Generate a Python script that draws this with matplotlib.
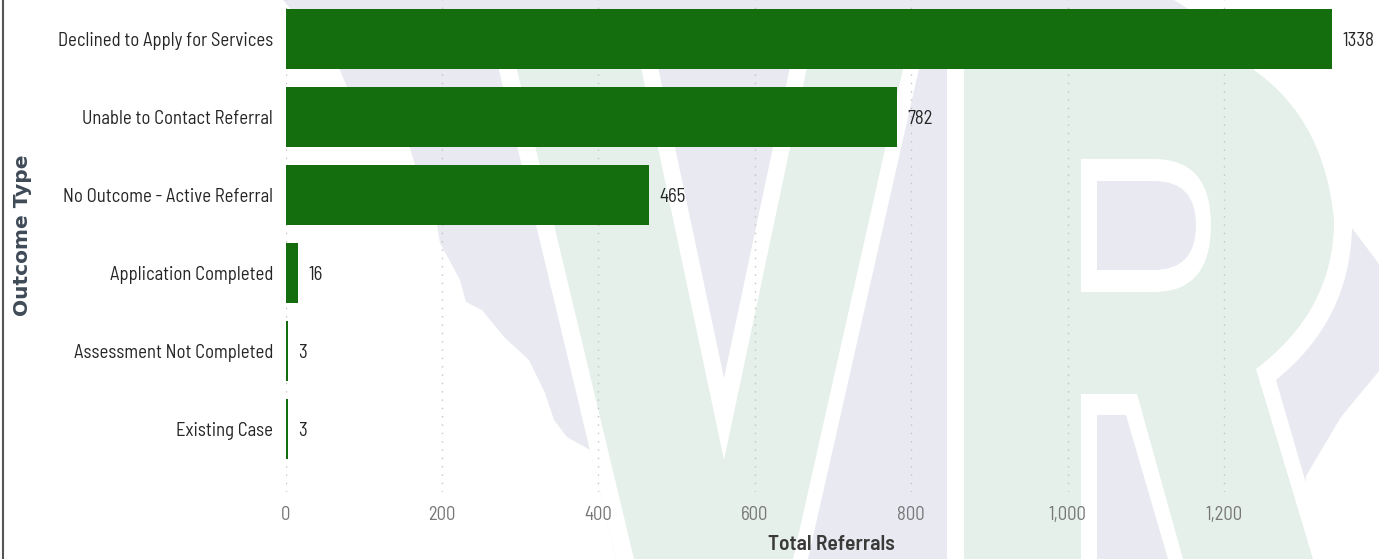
import matplotlib.pyplot as plt
from matplotlib.patches import Polygon, PathPatch
from matplotlib.path import Path

plt.rcParams['font.family'] = ['Barlow Semi Condensed', 'Roboto Condensed', 'Liberation Sans', 'DejaVu Sans']

# data
outcomes = ["Declined to Apply for Services", "Unable to Contact Referral", "No Outcome - Active Referral",
            "Application Completed", "Assessment Not Completed", "Existing Case"]
referrals = [1338, 782, 465, 16, 3, 3]
x_ticks = [0, 200, 400, 600, 800, 1000, 1200]

# colours
bar_green = "#156e0e"
lavender = "#e9e9f2"
pale_green = "#e5f0ea"

W, H = 1379, 559
fig = plt.figure(figsize=(W / 100, H / 100), dpi=100, facecolor="white")

# watermark behind the chart, in pixel coordinates
bg = fig.add_axes([0, 0, 1, 1], zorder=0)
bg.set_xlim(0, W)
bg.set_ylim(H, 0)
bg.axis("off")


def curved(start, steps, col):
    # steps are (control, end) for a curve or (end,) for a straight piece
    verts = [start]
    codes = [Path.MOVETO]
    for st in steps:
        if len(st) == 2:
            verts += [st[0], st[1]]
            codes += [Path.CURVE3, Path.CURVE3]
        else:
            verts.append(st[0])
            codes.append(Path.LINETO)
    verts.append(start)
    codes.append(Path.CLOSEPOLY)
    bg.add_patch(PathPatch(Path(verts, codes), facecolor=col, edgecolor="none"))


state = [(283, 0), (1174, 0), (1270, 60), (1352, 228), (1379, 264), (1379, 371), (1341, 417), (1306, 476),
         (1300, 559), (616, 559), (590, 450), (567, 437), (554, 420), (545, 393), (529, 360), (504, 337),
         (482, 310), (466, 302), (460, 280), (440, 243), (437, 225), (415, 165), (410, 148), (347, 87), (340, 70)]
shapes = [
    (state, lavender),
    # V
    ([(487, 20), (930, 20), (808, 559), (616, 559)], "white"),
    ([(505, 20), (914, 20), (793, 559), (634, 559)], pale_green),
    ([(631, 20), (817, 20), (724, 460)], "white"),
    ([(648, 20), (800, 20), (724, 378)], lavender),
]
for pts, col in shapes:
    bg.add_patch(Polygon(pts, closed=True, facecolor=col, edgecolor="none"))

# R
curved((947, 10), [((1175, 10),), ((1240, 20), (1270, 60)), ((1343, 115), (1352, 228)), ((1350, 320), (1276, 380)),
                   ((1328, 559),), ((947, 559),)], "white")
curved((964, 20), [((1170, 20),), ((1225, 30), (1254, 70)), ((1325, 120), (1334, 221)), ((1334, 310), (1256, 369)),
                   ((1313, 559),), ((964, 559),)], pale_green)
curved((1081, 159), [((1154, 159),), ((1211, 159), (1211, 225)), ((1211, 292), (1154, 292)), ((1081, 292),)], "white")
curved((1097, 181), [((1154, 181),), ((1196, 181), (1196, 225)), ((1196, 270), (1154, 270)), ((1097, 270),)], lavender)
bg.add_patch(Polygon([(1081, 394), (1137, 394), (1183, 559), (1081, 559)], facecolor="white", edgecolor="none"))
bg.add_patch(Polygon([(1097, 415), (1126, 415), (1168, 559), (1097, 559)], facecolor=lavender, edgecolor="none"))

# dark line on the left edge of the visual
bg.plot([3, 3], [0, H], color="#555555", lw=1.5)

# the bar chart
ax = fig.add_axes([285.5 / W, (H - 492) / H, (W - 285.5) / W, 492 / H], zorder=1)
ax.patch.set_alpha(0)
y = list(range(len(outcomes)))
bars = ax.barh(y, referrals, height=0.77, color=bar_green, zorder=3)
ax.set_xlim(0, (W - 285.5) / 0.782)
ax.set_ylim(5.81, -0.5)

for bar, val in zip(bars, referrals):
    ax.annotate(str(val), (val, bar.get_y() + bar.get_height() / 2), xytext=(7.6, -1.5),
                textcoords="offset points", va="center", ha="left", fontsize=13.5, color="#252525")

ax.set_yticks(y)
ax.set_yticklabels(outcomes, fontsize=13.45, color="#252525")
ax.set_xticks(x_ticks)
ax.set_xticklabels([f"{t:,}" for t in x_ticks], fontsize=13.5, color="#777777")
ax.tick_params(axis="both", length=0)
ax.tick_params(axis="y", pad=9)
ax.tick_params(axis="x", pad=10)
ax.grid(axis="x", color="#c4c4c4", linestyle=(0, (1, 5)), linewidth=1, zorder=1)
ax.set_axisbelow(True)
for s in ax.spines.values():
    s.set_visible(False)

fig.text(831 / W, 1 - 545 / H, "Total Referrals", fontsize=15.5, fontweight="semibold", color="#3a3a3a",
         ha="center", va="center")
fig.text(23 / W, 1 - 235 / H, "Outcome Type", fontsize=14.5, fontweight="bold", color="#3f4a57", rotation=90,
         ha="center", va="center", family="DejaVu Sans")

fig.savefig("out.png", dpi=100)
